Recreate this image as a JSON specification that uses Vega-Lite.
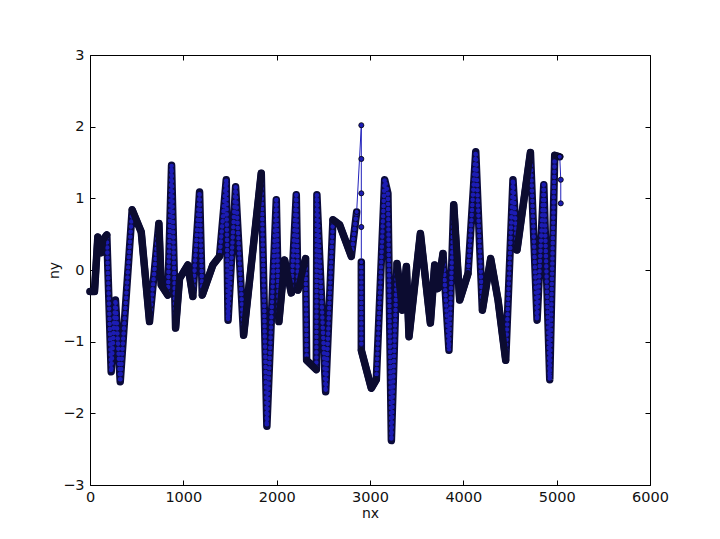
{
  "$schema": "https://vega.github.io/schema/vega-lite/v6.json",
  "width": 560,
  "height": 430,
  "autosize": {"type": "none"},
  "padding": {"left": 90, "top": 55, "right": 70, "bottom": 54},
  "background": "white",
  "config": {
    "view": {"stroke": "black", "strokeWidth": 1},
    "axis": {
      "grid": false,
      "domain": false,
      "tickColor": "black",
      "tickSize": -5,
      "labelFont": "DejaVu Sans",
      "labelFontSize": 14.5,
      "labelColor": "#111111",
      "labelFlush": false,
      "labelOverlap": false,
      "titleFont": "DejaVu Sans",
      "titleFontSize": 14,
      "titleFontWeight": "normal",
      "titleColor": "#111111"
    }
  },
  "datasets": {
    "main": [
      {"i": 1, "run": 1, "nx": 0, "ny": -0.30},
      {"i": 2, "run": 1, "nx": 48, "ny": -0.30},
      {"i": 3, "run": 1, "nx": 84, "ny": 0.46},
      {"i": 4, "run": 1, "nx": 120, "ny": 0.24},
      {"i": 5, "run": 1, "nx": 139, "ny": 0.42},
      {"i": 6, "run": 1, "nx": 180, "ny": 0.49},
      {"i": 7, "run": 1, "nx": 227, "ny": -1.42},
      {"i": 8, "run": 1, "nx": 273, "ny": -0.42},
      {"i": 9, "run": 1, "nx": 324, "ny": -1.56},
      {"i": 10, "run": 1, "nx": 452, "ny": 0.84},
      {"i": 11, "run": 1, "nx": 549, "ny": 0.53},
      {"i": 12, "run": 1, "nx": 638, "ny": -0.72},
      {"i": 13, "run": 1, "nx": 738, "ny": 0.65},
      {"i": 14, "run": 1, "nx": 763, "ny": -0.21},
      {"i": 15, "run": 1, "nx": 834, "ny": -0.35},
      {"i": 16, "run": 1, "nx": 874, "ny": 1.46},
      {"i": 17, "run": 1, "nx": 917, "ny": -0.81},
      {"i": 18, "run": 1, "nx": 959, "ny": -0.12},
      {"i": 19, "run": 1, "nx": 1048, "ny": 0.07},
      {"i": 20, "run": 1, "nx": 1102, "ny": -0.37},
      {"i": 21, "run": 1, "nx": 1174, "ny": 1.09},
      {"i": 22, "run": 1, "nx": 1203, "ny": -0.35},
      {"i": 23, "run": 1, "nx": 1316, "ny": 0.07},
      {"i": 24, "run": 1, "nx": 1388, "ny": 0.19},
      {"i": 25, "run": 1, "nx": 1460, "ny": 1.26},
      {"i": 26, "run": 1, "nx": 1479, "ny": -0.70},
      {"i": 27, "run": 1, "nx": 1560, "ny": 1.16},
      {"i": 28, "run": 1, "nx": 1646, "ny": -0.91},
      {"i": 29, "run": 1, "nx": 1835, "ny": 1.35},
      {"i": 30, "run": 1, "nx": 1895, "ny": -2.18},
      {"i": 31, "run": 1, "nx": 1996, "ny": 0.98},
      {"i": 32, "run": 1, "nx": 2024, "ny": -0.72},
      {"i": 33, "run": 1, "nx": 2085, "ny": 0.14},
      {"i": 34, "run": 1, "nx": 2157, "ny": -0.32},
      {"i": 35, "run": 1, "nx": 2210, "ny": 1.05},
      {"i": 36, "run": 1, "nx": 2228, "ny": -0.28},
      {"i": 37, "run": 1, "nx": 2310, "ny": 0.16},
      {"i": 38, "run": 1, "nx": 2321, "ny": -1.26},
      {"i": 39, "run": 1, "nx": 2425, "ny": -1.39},
      {"i": 40, "run": 1, "nx": 2431, "ny": 1.05},
      {"i": 41, "run": 1, "nx": 2525, "ny": -1.70},
      {"i": 42, "run": 1, "nx": 2603, "ny": 0.70},
      {"i": 43, "run": 1, "nx": 2675, "ny": 0.63},
      {"i": 44, "run": 1, "nx": 2800, "ny": 0.19},
      {"i": 45, "run": 1, "nx": 2857, "ny": 0.81},
      {"i": 46, "run": 2, "nx": 2907, "ny": 0.11},
      {"i": 47, "run": 2, "nx": 2907, "ny": -1.12},
      {"i": 48, "run": 2, "nx": 3014, "ny": -1.65},
      {"i": 49, "run": 2, "nx": 3068, "ny": -1.53},
      {"i": 50, "run": 2, "nx": 3157, "ny": 1.26},
      {"i": 51, "run": 2, "nx": 3192, "ny": 1.07},
      {"i": 52, "run": 2, "nx": 3229, "ny": -2.38},
      {"i": 53, "run": 2, "nx": 3289, "ny": 0.09},
      {"i": 54, "run": 2, "nx": 3347, "ny": -0.56},
      {"i": 55, "run": 2, "nx": 3390, "ny": 0.05},
      {"i": 56, "run": 2, "nx": 3418, "ny": -0.93},
      {"i": 57, "run": 2, "nx": 3540, "ny": 0.51},
      {"i": 58, "run": 2, "nx": 3647, "ny": -0.74},
      {"i": 59, "run": 2, "nx": 3693, "ny": 0.07},
      {"i": 60, "run": 2, "nx": 3728, "ny": -0.26},
      {"i": 61, "run": 2, "nx": 3782, "ny": 0.23},
      {"i": 62, "run": 2, "nx": 3846, "ny": -1.12},
      {"i": 63, "run": 2, "nx": 3897, "ny": 0.91},
      {"i": 64, "run": 2, "nx": 3961, "ny": -0.42},
      {"i": 65, "run": 2, "nx": 4050, "ny": -0.05},
      {"i": 66, "run": 2, "nx": 4133, "ny": 1.65},
      {"i": 67, "run": 2, "nx": 4204, "ny": -0.56},
      {"i": 68, "run": 2, "nx": 4293, "ny": 0.16},
      {"i": 69, "run": 2, "nx": 4372, "ny": -0.42},
      {"i": 70, "run": 2, "nx": 4454, "ny": -1.26},
      {"i": 71, "run": 2, "nx": 4532, "ny": 1.26},
      {"i": 72, "run": 2, "nx": 4575, "ny": 0.28},
      {"i": 73, "run": 2, "nx": 4719, "ny": 1.64},
      {"i": 74, "run": 2, "nx": 4790, "ny": -0.70},
      {"i": 75, "run": 2, "nx": 4862, "ny": 1.19},
      {"i": 76, "run": 2, "nx": 4926, "ny": -1.53},
      {"i": 77, "run": 2, "nx": 4979, "ny": 1.60},
      {"i": 78, "run": 2, "nx": 5033, "ny": 1.58}
    ],
    "flat": [
      {"g": 1, "i": 1, "nx": 0, "ny": -0.30},
      {"g": 1, "i": 2, "nx": 48, "ny": -0.30},
      {"g": 1, "i": 3, "nx": 84, "ny": 0.46},
      {"g": 1, "i": 4, "nx": 120, "ny": 0.24},
      {"g": 1, "i": 5, "nx": 139, "ny": 0.42},
      {"g": 1, "i": 6, "nx": 180, "ny": 0.49},
      {"g": 2, "i": 10, "nx": 452, "ny": 0.84},
      {"g": 2, "i": 11, "nx": 549, "ny": 0.53},
      {"g": 2, "i": 12, "nx": 638, "ny": -0.72},
      {"g": 3, "i": 13, "nx": 738, "ny": 0.65},
      {"g": 3, "i": 14, "nx": 763, "ny": -0.21},
      {"g": 3, "i": 15, "nx": 834, "ny": -0.35},
      {"g": 4, "i": 17, "nx": 917, "ny": -0.81},
      {"g": 4, "i": 18, "nx": 959, "ny": -0.12},
      {"g": 4, "i": 19, "nx": 1048, "ny": 0.07},
      {"g": 4, "i": 20, "nx": 1102, "ny": -0.37},
      {"g": 5, "i": 22, "nx": 1203, "ny": -0.35},
      {"g": 5, "i": 23, "nx": 1316, "ny": 0.07},
      {"g": 5, "i": 24, "nx": 1388, "ny": 0.19},
      {"g": 6, "i": 28, "nx": 1646, "ny": -0.91},
      {"g": 6, "i": 29, "nx": 1835, "ny": 1.35},
      {"g": 7, "i": 32, "nx": 2024, "ny": -0.72},
      {"g": 7, "i": 33, "nx": 2085, "ny": 0.14},
      {"g": 7, "i": 34, "nx": 2157, "ny": -0.32},
      {"g": 8, "i": 36, "nx": 2228, "ny": -0.28},
      {"g": 8, "i": 37, "nx": 2310, "ny": 0.16},
      {"g": 9, "i": 38, "nx": 2321, "ny": -1.26},
      {"g": 9, "i": 39, "nx": 2425, "ny": -1.39},
      {"g": 10, "i": 42, "nx": 2603, "ny": 0.70},
      {"g": 10, "i": 43, "nx": 2675, "ny": 0.63},
      {"g": 10, "i": 44, "nx": 2800, "ny": 0.19},
      {"g": 11, "i": 47, "nx": 2907, "ny": -1.12},
      {"g": 11, "i": 48, "nx": 3014, "ny": -1.65},
      {"g": 11, "i": 49, "nx": 3068, "ny": -1.53},
      {"g": 12, "i": 53, "nx": 3289, "ny": 0.09},
      {"g": 12, "i": 54, "nx": 3347, "ny": -0.56},
      {"g": 12, "i": 55, "nx": 3390, "ny": 0.05},
      {"g": 12, "i": 56, "nx": 3418, "ny": -0.93},
      {"g": 12, "i": 57, "nx": 3540, "ny": 0.51},
      {"g": 12, "i": 58, "nx": 3647, "ny": -0.74},
      {"g": 12, "i": 59, "nx": 3693, "ny": 0.07},
      {"g": 12, "i": 60, "nx": 3728, "ny": -0.26},
      {"g": 12, "i": 61, "nx": 3782, "ny": 0.23},
      {"g": 13, "i": 63, "nx": 3897, "ny": 0.91},
      {"g": 13, "i": 64, "nx": 3961, "ny": -0.42},
      {"g": 13, "i": 65, "nx": 4050, "ny": -0.05},
      {"g": 14, "i": 67, "nx": 4204, "ny": -0.56},
      {"g": 14, "i": 68, "nx": 4293, "ny": 0.16},
      {"g": 14, "i": 69, "nx": 4372, "ny": -0.42},
      {"g": 14, "i": 70, "nx": 4454, "ny": -1.26},
      {"g": 15, "i": 72, "nx": 4575, "ny": 0.28},
      {"g": 15, "i": 73, "nx": 4719, "ny": 1.64},
      {"g": 16, "i": 77, "nx": 4979, "ny": 1.60},
      {"g": 16, "i": 78, "nx": 5033, "ny": 1.58}
    ],
    "sparse": [
      {"i": 1, "run": 1, "nx": 2857, "ny": 0.81},
      {"i": 2, "run": 1, "nx": 2907, "ny": 2.02},
      {"i": 3, "run": 1, "nx": 2907, "ny": 1.55},
      {"i": 4, "run": 1, "nx": 2907, "ny": 1.07},
      {"i": 5, "run": 1, "nx": 2907, "ny": 0.60},
      {"i": 6, "run": 1, "nx": 2907, "ny": 0.11},
      {"i": 7, "run": 2, "nx": 5033, "ny": 1.58},
      {"i": 8, "run": 2, "nx": 5044, "ny": 1.26},
      {"i": 9, "run": 2, "nx": 5044, "ny": 0.93}
    ]
  },
  "resolve": {"axis": {"x": "independent", "y": "independent"}},
  "layer": [
    {
      "data": {"name": "main"},
      "mark": {"type": "line", "color": "#0b0b3a", "strokeWidth": 7.5, "strokeJoin": "round", "strokeCap": "round"},
      "encoding": {
        "x": {"field": "nx", "type": "quantitative", "scale": {"domain": [0, 6000], "nice": false, "zero": false},
              "axis": {"orient": "bottom", "values": [0, 1000, 2000, 3000, 4000, 5000, 6000], "format": "d", "labelPadding": 10, "title": "nx", "titlePadding": 3}},
        "y": {"field": "ny", "type": "quantitative", "scale": {"domain": [-3, 3], "nice": false, "zero": false},
              "axis": {"orient": "left", "values": [-3, -2, -1, 0, 1, 2, 3], "format": "d", "labelPadding": 11, "title": "ny", "titlePadding": 1}},
        "detail": {"field": "run", "type": "nominal"},
        "order": {"field": "i", "type": "quantitative"}
      }
    },
    {
      "data": {"name": "main"},
      "mark": {"type": "line", "color": "#1c1cb4", "strokeWidth": 4.5, "strokeJoin": "round", "strokeCap": "round", "strokeDash": [0.1, 5]},
      "encoding": {
        "x": {"field": "nx", "type": "quantitative", "axis": null},
        "y": {"field": "ny", "type": "quantitative", "axis": null},
        "detail": {"field": "run", "type": "nominal"},
        "order": {"field": "i", "type": "quantitative"}
      }
    },
    {
      "data": {"name": "flat"},
      "mark": {"type": "line", "color": "#0c0c30", "strokeWidth": 7, "strokeJoin": "round", "strokeCap": "round"},
      "encoding": {
        "x": {"field": "nx", "type": "quantitative", "axis": null},
        "y": {"field": "ny", "type": "quantitative", "axis": null},
        "detail": {"field": "g", "type": "nominal"},
        "order": {"field": "i", "type": "quantitative"}
      }
    },
    {
      "data": {"name": "sparse"},
      "mark": {"type": "line", "color": "#2222bb", "strokeWidth": 1},
      "encoding": {
        "x": {"field": "nx", "type": "quantitative",
              "axis": {"orient": "top", "values": [0, 1000, 2000, 3000, 4000, 5000, 6000], "labels": false, "title": null}},
        "y": {"field": "ny", "type": "quantitative",
              "axis": {"orient": "right", "values": [-3, -2, -1, 0, 1, 2, 3], "labels": false, "title": null}},
        "detail": {"field": "run", "type": "nominal"},
        "order": {"field": "i", "type": "quantitative"}
      }
    },
    {
      "data": {"name": "sparse"},
      "mark": {"type": "point", "shape": "circle", "filled": true, "size": 26, "color": "#1c1cb4", "stroke": "black", "strokeWidth": 0.8, "opacity": 1},
      "encoding": {
        "x": {"field": "nx", "type": "quantitative", "axis": null},
        "y": {"field": "ny", "type": "quantitative", "axis": null}
      }
    }
  ]
}
